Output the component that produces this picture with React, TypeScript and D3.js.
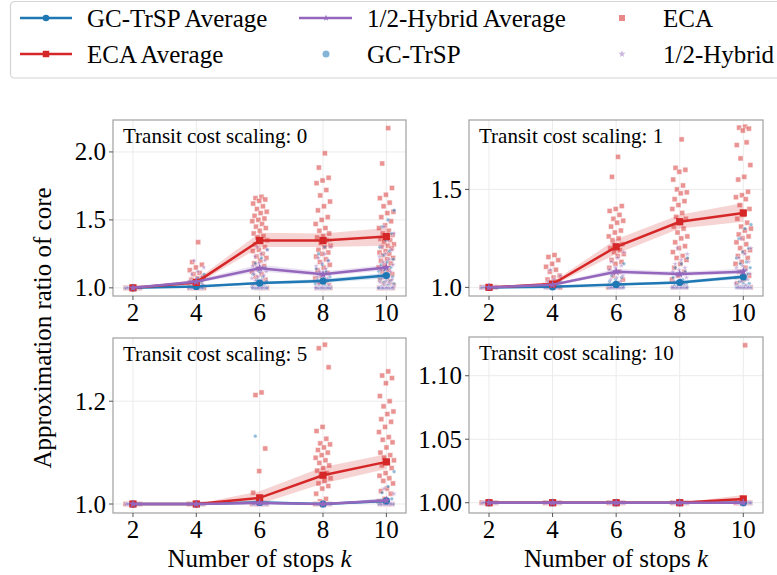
import React from 'react';
import * as d3 from 'd3';

const ks = [2, 4, 6, 8, 10];
const scalingLabels = ['0', '1', '5', '10'];
const xTickLabels = ['2', '4', '6', '8', '10'];
const yTicks = [[1.0, 1.5, 2.0], [1.0, 1.5], [1.0, 1.2], [1.0, 1.05, 1.1]];
const yTickLabels = [['1.0', '1.5', '2.0'], ['1.0', '1.5'], ['1.0', '1.2'], ['1.00', '1.05', '1.10']];
const yDomains = [[0.94, 2.235], [0.956, 1.854], [0.9825, 1.323], [0.9919, 1.1305]];

// averages per panel (scaling 0,1,5,10) over k
const gcAvg = [
  [1.0, 1.01, 1.035, 1.05, 1.09],
  [1.0, 1.003, 1.015, 1.025, 1.054],
  [1.0, 1.0, 1.003, 1.0, 1.006],
  [1.0, 1.0, 1.0, 1.0, 1.0],
];
const gcLo = [
  [1.0, 1.005, 1.025, 1.035, 1.07],
  [1.0, 1.001, 1.01, 1.018, 1.043],
  [1.0, 1.0, 1.0, 1.0, 1.002],
  [1.0, 1.0, 1.0, 1.0, 1.0],
];
const gcHi = [
  [1.0, 1.015, 1.045, 1.065, 1.11],
  [1.0, 1.005, 1.02, 1.032, 1.065],
  [1.0, 1.0, 1.008, 1.0, 1.011],
  [1.0, 1.0, 1.0, 1.0, 1.0],
];
const ecaAvg = [
  [1.0, 1.04, 1.348, 1.348, 1.377],
  [1.0, 1.017, 1.207, 1.335, 1.38],
  [1.0, 1.0, 1.012, 1.056, 1.082],
  [1.0, 1.0, 1.0, 1.0, 1.003],
];
const ecaLo = [
  [1.0, 1.025, 1.3, 1.3, 1.31],
  [1.0, 1.008, 1.17, 1.3, 1.335],
  [1.0, 1.0, 1.0, 1.04, 1.068],
  [1.0, 1.0, 1.0, 1.0, 1.0],
];
const ecaHi = [
  [1.0, 1.06, 1.405, 1.4, 1.44],
  [1.0, 1.028, 1.245, 1.37, 1.43],
  [1.0, 1.0, 1.025, 1.072, 1.097],
  [1.0, 1.0, 1.0, 1.0, 1.006],
];
const hyAvg = [
  [1.0, 1.045, 1.145, 1.1, 1.15],
  [1.0, 1.013, 1.08, 1.068, 1.08],
  [1.0, 1.0, 1.002, 1.0, 1.007],
  [1.0, 1.0, 1.0, 1.0, 1.0],
];
const hyLo = [
  [1.0, 1.035, 1.12, 1.085, 1.13],
  [1.0, 1.008, 1.068, 1.058, 1.068],
  [1.0, 1.0, 1.0, 1.0, 1.003],
  [1.0, 1.0, 1.0, 1.0, 1.0],
];
const hyHi = [
  [1.0, 1.06, 1.17, 1.12, 1.17],
  [1.0, 1.02, 1.095, 1.08, 1.095],
  [1.0, 1.0, 1.005, 1.0, 1.012],
  [1.0, 1.0, 1.0, 1.0, 1.0],
];

// individual runs: [panel][k index] -> values
const ecaPts = [
  [
    [1, 1, 1, 1, 1, 1, 1, 1, 1, 1, 1, 1, 1, 1, 1, 1, 1, 1],
    [1.336, 1.19, 1.17, 1.15, 1.13, 1.11, 1.1, 1.08, 1.07, 1.06, 1.05, 1.04, 1.03, 1.02, 1.02, 1.01, 1, 1, 1, 1, 1, 1, 1, 1, 1, 1, 1, 1],
    [1.67, 1.66, 1.65, 1.64, 1.62, 1.6, 1.58, 1.56, 1.55, 1.53, 1.51, 1.5, 1.49, 1.47, 1.45, 1.44, 1.42, 1.4, 1.38, 1.37, 1.35, 1.34, 1.32, 1.3, 1.28, 1.27, 1.25, 1.23, 1.22, 1.2, 1.18, 1.16, 1.14, 1.12, 1.1, 1.08, 1.06, 1.04, 1.02, 1, 1, 1, 1],
    [1.99, 1.885, 1.81, 1.79, 1.77, 1.72, 1.68, 1.635, 1.6, 1.57, 1.52, 1.5, 1.47, 1.44, 1.42, 1.4, 1.38, 1.37, 1.35, 1.33, 1.31, 1.3, 1.28, 1.26, 1.25, 1.23, 1.21, 1.19, 1.17, 1.15, 1.13, 1.11, 1.09, 1.07, 1.05, 1.03, 1.02, 1, 1, 1, 1, 1, 1],
    [2.175, 1.915, 1.735, 1.685, 1.66, 1.627, 1.6, 1.56, 1.55, 1.52, 1.49, 1.46, 1.44, 1.42, 1.4, 1.39, 1.37, 1.36, 1.35, 1.34, 1.32, 1.31, 1.3, 1.29, 1.27, 1.26, 1.25, 1.24, 1.22, 1.21, 1.2, 1.18, 1.17, 1.15, 1.13, 1.12, 1.1, 1.08, 1.06, 1.05, 1.03, 1.02, 1.01, 1, 1, 1, 1, 1, 1, 1],
  ],
  [
    [1, 1, 1, 1, 1, 1, 1, 1, 1, 1, 1, 1, 1, 1, 1, 1],
    [1.165, 1.155, 1.139, 1.12, 1.105, 1.09, 1.08, 1.06, 1.05, 1.04, 1.03, 1.02, 1.01, 1, 1, 1, 1, 1, 1, 1, 1, 1, 1],
    [1.666, 1.564, 1.415, 1.4, 1.39, 1.37, 1.35, 1.34, 1.33, 1.31, 1.29, 1.28, 1.26, 1.25, 1.24, 1.22, 1.21, 1.2, 1.19, 1.18, 1.17, 1.16, 1.14, 1.13, 1.12, 1.1, 1.08, 1.06, 1.04, 1.02, 1, 1, 1, 1, 1],
    [1.755, 1.61, 1.6, 1.59, 1.55, 1.52, 1.5, 1.485, 1.48, 1.45, 1.44, 1.42, 1.4, 1.38, 1.36, 1.35, 1.33, 1.31, 1.3, 1.28, 1.26, 1.25, 1.23, 1.21, 1.2, 1.18, 1.16, 1.15, 1.14, 1.12, 1.1, 1.08, 1.06, 1.04, 1.02, 1, 1, 1, 1],
    [1.82, 1.815, 1.81, 1.8, 1.726, 1.74, 1.658, 1.624, 1.564, 1.55, 1.488, 1.47, 1.46, 1.45, 1.42, 1.4, 1.37, 1.35, 1.33, 1.31, 1.3, 1.29, 1.27, 1.26, 1.25, 1.23, 1.22, 1.2, 1.19, 1.18, 1.16, 1.15, 1.13, 1.12, 1.1, 1.08, 1.06, 1.04, 1.02, 1, 1, 1, 1],
  ],
  [
    [1, 1, 1, 1, 1, 1, 1, 1, 1, 1, 1, 1, 1, 1],
    [1, 1, 1, 1, 1, 1, 1, 1, 1, 1, 1, 1, 1, 1],
    [1.217, 1.212, 1.108, 1.064, 1.022, 1, 1, 1, 1, 1, 1, 1, 1, 1, 1, 1],
    [1.31, 1.303, 1.266, 1.15, 1.142, 1.127, 1.118, 1.116, 1.11, 1.105, 1.1, 1.095, 1.09, 1.085, 1.08, 1.075, 1.07, 1.065, 1.06, 1.055, 1.05, 1.045, 1.04, 1.035, 1.03, 1.02, 1.01, 1.005, 1, 1, 1, 1, 1, 1],
    [1.258, 1.25, 1.245, 1.235, 1.21, 1.2, 1.19, 1.18, 1.175, 1.165, 1.16, 1.15, 1.14, 1.13, 1.125, 1.12, 1.11, 1.1, 1.095, 1.09, 1.085, 1.08, 1.075, 1.07, 1.06, 1.055, 1.05, 1.045, 1.04, 1.03, 1.025, 1.02, 1.01, 1.005, 1, 1, 1, 1, 1, 1],
  ],
  [
    [1, 1, 1, 1, 1, 1, 1, 1, 1, 1, 1, 1, 1, 1],
    [1, 1, 1, 1, 1, 1, 1, 1, 1, 1, 1, 1, 1, 1],
    [1, 1, 1, 1, 1, 1, 1, 1, 1, 1, 1, 1, 1, 1],
    [1, 1, 1, 1, 1, 1, 1, 1, 1, 1, 1, 1, 1, 1],
    [1.124, 1, 1, 1, 1, 1, 1, 1, 1, 1, 1, 1, 1, 1, 1, 1, 1],
  ],
];

const gcPts = [
  [
    [1, 1, 1, 1, 1, 1, 1, 1, 1, 1, 1, 1, 1, 1],
    [1.1, 1.07, 1.05, 1.03, 1.02, 1.01, 1, 1, 1, 1, 1, 1, 1, 1, 1, 1, 1, 1, 1, 1],
    [1.28, 1.22, 1.18, 1.15, 1.12, 1.1, 1.08, 1.06, 1.05, 1.04, 1.03, 1.02, 1.02, 1.01, 1.01, 1, 1, 1, 1, 1, 1, 1, 1, 1, 1, 1, 1, 1, 1, 1],
    [1.35, 1.3, 1.25, 1.2, 1.17, 1.14, 1.12, 1.1, 1.08, 1.07, 1.06, 1.05, 1.04, 1.03, 1.02, 1.01, 1.01, 1, 1, 1, 1, 1, 1, 1, 1, 1, 1, 1, 1, 1, 1, 1],
    [1.57, 1.5, 1.45, 1.4, 1.35, 1.3, 1.27, 1.24, 1.21, 1.19, 1.17, 1.15, 1.13, 1.12, 1.1, 1.09, 1.08, 1.07, 1.06, 1.05, 1.04, 1.03, 1.02, 1.01, 1, 1, 1, 1, 1, 1, 1, 1, 1, 1, 1, 1, 1, 1, 1],
  ],
  [
    [1, 1, 1, 1, 1, 1, 1, 1, 1, 1, 1, 1, 1, 1],
    [1.03, 1.02, 1.01, 1.005, 1, 1, 1, 1, 1, 1, 1, 1, 1, 1, 1, 1],
    [1.12, 1.08, 1.06, 1.05, 1.04, 1.03, 1.02, 1.02, 1.01, 1.01, 1.005, 1, 1, 1, 1, 1, 1, 1, 1, 1, 1, 1, 1, 1, 1],
    [1.15, 1.12, 1.1, 1.08, 1.07, 1.05, 1.04, 1.03, 1.02, 1.02, 1.01, 1.01, 1, 1, 1, 1, 1, 1, 1, 1, 1, 1, 1, 1, 1, 1],
    [1.32, 1.3, 1.25, 1.2, 1.18, 1.15, 1.13, 1.12, 1.1, 1.09, 1.08, 1.07, 1.06, 1.05, 1.04, 1.03, 1.02, 1.02, 1.01, 1.01, 1, 1, 1, 1, 1, 1, 1, 1, 1, 1, 1, 1, 1, 1],
  ],
  [
    [1, 1, 1, 1, 1, 1, 1, 1, 1, 1, 1, 1],
    [1, 1, 1, 1, 1, 1, 1, 1, 1, 1, 1, 1],
    [1, 1, 1.132, 1, 1, 1, 1, 1, 1, 1, 1, 1],
    [1, 1, 1, 1, 1, 1, 1, 1, 1, 1, 1, 1],
    [1.063, 1.034, 1.022, 1.01, 1.005, 1, 1, 1, 1, 1, 1, 1, 1, 1],
  ],
  [
    [1, 1, 1, 1, 1, 1, 1, 1, 1, 1, 1, 1],
    [1, 1, 1, 1, 1, 1, 1, 1, 1, 1, 1, 1],
    [1, 1, 1, 1, 1, 1, 1, 1, 1, 1, 1, 1],
    [1, 1, 1, 1, 1, 1, 1, 1, 1, 1, 1, 1],
    [1, 1, 1, 1, 1, 1, 1, 1, 1, 1, 1, 1],
  ],
];

const hyPts = [
  [
    [1, 1, 1, 1, 1, 1, 1, 1, 1, 1, 1, 1, 1, 1],
    [1.2, 1.15, 1.12, 1.1, 1.08, 1.06, 1.05, 1.04, 1.03, 1.02, 1.01, 1, 1, 1, 1, 1, 1, 1, 1],
    [1.3, 1.28, 1.25, 1.23, 1.2, 1.18, 1.16, 1.15, 1.14, 1.12, 1.11, 1.1, 1.09, 1.08, 1.07, 1.06, 1.05, 1.04, 1.03, 1.02, 1.01, 1, 1, 1, 1, 1, 1, 1, 1],
    [1.35, 1.3, 1.25, 1.22, 1.2, 1.18, 1.16, 1.14, 1.12, 1.1, 1.09, 1.08, 1.07, 1.06, 1.05, 1.04, 1.03, 1.02, 1.01, 1, 1, 1, 1, 1, 1, 1, 1, 1],
    [1.45, 1.4, 1.35, 1.3, 1.28, 1.25, 1.23, 1.21, 1.19, 1.17, 1.15, 1.13, 1.12, 1.1, 1.09, 1.08, 1.07, 1.06, 1.05, 1.04, 1.03, 1.02, 1.01, 1, 1, 1, 1, 1, 1, 1, 1, 1],
  ],
  [
    [1, 1, 1, 1, 1, 1, 1, 1, 1, 1, 1, 1],
    [1.09, 1.06, 1.04, 1.03, 1.02, 1.01, 1, 1, 1, 1, 1, 1, 1, 1, 1, 1],
    [1.22, 1.18, 1.15, 1.13, 1.11, 1.1, 1.09, 1.08, 1.07, 1.06, 1.05, 1.04, 1.03, 1.02, 1.01, 1, 1, 1, 1, 1, 1, 1, 1, 1, 1],
    [1.2, 1.17, 1.14, 1.12, 1.1, 1.09, 1.08, 1.07, 1.06, 1.05, 1.04, 1.03, 1.02, 1.01, 1, 1, 1, 1, 1, 1, 1, 1, 1, 1],
    [1.25, 1.2, 1.17, 1.15, 1.13, 1.11, 1.1, 1.09, 1.08, 1.07, 1.06, 1.05, 1.04, 1.03, 1.02, 1.01, 1, 1, 1, 1, 1, 1, 1, 1, 1, 1],
  ],
  [
    [1, 1, 1, 1, 1, 1, 1, 1, 1, 1, 1, 1],
    [1, 1, 1, 1, 1, 1, 1, 1, 1, 1, 1, 1],
    [1.01, 1, 1, 1, 1, 1, 1, 1, 1, 1, 1, 1],
    [1, 1, 1, 1, 1, 1, 1, 1, 1, 1, 1, 1],
    [1.03, 1.02, 1.01, 1.005, 1, 1, 1, 1, 1, 1, 1, 1, 1, 1],
  ],
  [
    [1, 1, 1, 1, 1, 1, 1, 1, 1, 1, 1, 1],
    [1, 1, 1, 1, 1, 1, 1, 1, 1, 1, 1, 1],
    [1, 1, 1, 1, 1, 1, 1, 1, 1, 1, 1, 1],
    [1, 1, 1, 1, 1, 1, 1, 1, 1, 1, 1, 1],
    [1, 1, 1, 1, 1, 1, 1, 1, 1, 1, 1, 1],
  ],
];

const BLUE = '#1f77b4';
const RED = '#d62728';
const PURPLE = '#9467bd';
const SERIF = { fontFamily: "'Liberation Serif', monospace" };

const PANELS = [
  { l: 113, r: 406, t: 120, b: 296 },
  { l: 469, r: 763, t: 120, b: 296 },
  { l: 113, r: 406, t: 338, b: 513 },
  { l: 469, r: 763, t: 337, b: 513 },
];

const starPath = (size: number) => d3.symbol(d3.symbolStar, size)() as string;
const squarePath = (size: number) => d3.symbol(d3.symbolSquare, size)() as string;

function jitter(i: number, m: number) {
  const f = ((i + 1) * 0.6180339887 + m * 0.37) % 1;
  return (f - 0.5) * 0.5;
}

function Panel({ p }: { p: number }) {
  const g = PANELS[p];
  const x = d3.scaleLinear().domain([1.37, 10.62]).range([g.l, g.r]);
  const y = d3.scaleLinear().domain(yDomains[p]).range([g.b, g.t]);
  const clipId = `clip${p}`;

  const line = d3.line<[number, number]>().x((d) => x(d[0])).y((d) => y(d[1]));
  const band = (l: number[], h: number[]) =>
    d3
      .area<number>()
      .x((k) => x(k))
      .y0((_, i) => y(l[i]))
      .y1((_, i) => y(h[i]))(ks) as string;

  const sq5 = squarePath(26);
  const st = starPath(11);
  const sqAvg = squarePath(52);
  const stAvg = starPath(24);

  return (
    <g>
      <defs>
        <clipPath id={clipId}>
          <rect x={g.l} y={g.t} width={g.r - g.l} height={g.b - g.t} />
        </clipPath>
      </defs>
      <rect x={g.l} y={g.t} width={g.r - g.l} height={g.b - g.t} fill="white" />
      {ks.map((k) => (
        <line key={'gx' + k} x1={x(k)} x2={x(k)} y1={g.t} y2={g.b} stroke="#ebebeb" strokeWidth={1} />
      ))}
      {yTicks[p].map((v) => (
        <line key={'gy' + v} x1={g.l} x2={g.r} y1={y(v)} y2={y(v)} stroke="#ebebeb" strokeWidth={1} />
      ))}
      <g clipPath={`url(#${clipId})`}>
        {ecaPts[p].map((arr, j) =>
          arr.map((v, i) => (
            <path
              key={`e${j}-${i}`}
              d={sq5}
              transform={`translate(${x(ks[j] + jitter(i, 0))},${y(v)})`}
              fill={RED}
              fillOpacity={0.5}
              stroke="white"
              strokeWidth={0.5}
            />
          ))
        )}
        {gcPts[p].map((arr, j) =>
          arr.map((v, i) => (
            <circle
              key={`g${j}-${i}`}
              cx={x(ks[j] + jitter(i, 1))}
              cy={y(v)}
              r={1.8}
              fill={BLUE}
              fillOpacity={0.5}
              stroke="white"
              strokeWidth={0.3}
            />
          ))
        )}
        {hyPts[p].map((arr, j) =>
          arr.map((v, i) => (
            <path
              key={`h${j}-${i}`}
              d={st}
              transform={`translate(${x(ks[j] + jitter(i, 2))},${y(v)})`}
              fill={PURPLE}
              fillOpacity={0.45}
              stroke="white"
              strokeWidth={0.3}
            />
          ))
        )}
        <path d={band(gcLo[p], gcHi[p])} fill={BLUE} fillOpacity={0.2} />
        <path d={band(ecaLo[p], ecaHi[p])} fill={RED} fillOpacity={0.2} />
        <path d={band(hyLo[p], hyHi[p])} fill={PURPLE} fillOpacity={0.2} />
        <path d={line(ks.map((k, i) => [k, gcAvg[p][i]])) as string} fill="none" stroke={BLUE} strokeWidth={2.5} />
        {ks.map((k, i) => (
          <circle key={'gm' + k} cx={x(k)} cy={y(gcAvg[p][i])} r={3.6} fill={BLUE} />
        ))}
        <path d={line(ks.map((k, i) => [k, ecaAvg[p][i]])) as string} fill="none" stroke={RED} strokeWidth={2.5} />
        {ks.map((k, i) => (
          <path key={'em' + k} d={sqAvg} transform={`translate(${x(k)},${y(ecaAvg[p][i])})`} fill={RED} />
        ))}
        <path d={line(ks.map((k, i) => [k, hyAvg[p][i]])) as string} fill="none" stroke={PURPLE} strokeWidth={2.5} />
        {ks.map((k, i) => (
          <path key={'hm' + k} d={stAvg} transform={`translate(${x(k)},${y(hyAvg[p][i])})`} fill={PURPLE} />
        ))}
      </g>
      <rect x={g.l} y={g.t} width={g.r - g.l} height={g.b - g.t} fill="none" stroke="#a0a0a0" strokeWidth={1.2} />
      {ks.map((k, i) => (
        <g key={'xt' + k}>
          <line x1={x(k)} x2={x(k)} y1={g.b} y2={g.b + 4} stroke="#555" strokeWidth={1} />
          <text x={x(k)} y={g.b + 25} textAnchor="middle" fontSize={25} style={SERIF}>
            {xTickLabels[i]}
          </text>
        </g>
      ))}
      {yTicks[p].map((v, i) => (
        <g key={'yt' + v}>
          <line x1={g.l - 4} x2={g.l} y1={y(v)} y2={y(v)} stroke="#555" strokeWidth={1} />
          <text x={g.l - 7} y={y(v) + 8.5} textAnchor="end" fontSize={25} style={SERIF}>
            {yTickLabels[p][i]}
          </text>
        </g>
      ))}
      <text x={g.l + 10} y={g.t + 23} fontSize={21} style={SERIF}>
        {`Transit cost scaling: ${scalingLabels[p]}`}
      </text>
    </g>
  );
}

function Legend() {
  const rows = [18, 54];
  const sqL = squarePath(42);
  const stL = starPath(14);
  const sqS = squarePath(36);
  const stS = starPath(16);
  const text = (x: number, yv: number, s: string) => (
    <text x={x} y={yv + 8.5} fontSize={25} style={SERIF}>
      {s}
    </text>
  );
  return (
    <g>
      <rect x={10.5} y={1.5} width={800} height={76.5} rx={4} fill="white" stroke="#d4d4d4" strokeWidth={1.2} />
      <line x1={20} x2={72} y1={rows[0]} y2={rows[0]} stroke={BLUE} strokeWidth={2.5} />
      <circle cx={46} cy={rows[0]} r={3.3} fill={BLUE} />
      {text(87, rows[0], 'GC-TrSP Average')}
      <line x1={20} x2={72} y1={rows[1]} y2={rows[1]} stroke={RED} strokeWidth={2.5} />
      <path d={sqL} transform={`translate(46,${rows[1]})`} fill={RED} />
      {text(87, rows[1], 'ECA Average')}
      <line x1={299} x2={352} y1={rows[0]} y2={rows[0]} stroke={PURPLE} strokeWidth={2.5} />
      <path d={stL} transform={`translate(326,${rows[0]})`} fill={PURPLE} />
      {text(367, rows[0], '1/2-Hybrid Average')}
      <circle cx={326} cy={rows[1]} r={3.5} fill={BLUE} fillOpacity={0.55} />
      {text(367, rows[1], 'GC-TrSP')}
      <path d={sqS} transform={`translate(622,${rows[0]})`} fill={RED} fillOpacity={0.55} />
      {text(663, rows[0], 'ECA')}
      <path d={stS} transform={`translate(622,${rows[1]})`} fill={PURPLE} fillOpacity={0.5} />
      {text(663, rows[1], '1/2-Hybrid')}
    </g>
  );
}

export default function App() {
  return (
    <svg width={777} height={575} style={{ position: 'absolute', left: 0, top: 0, background: 'white' }}>
      <rect x={0} y={0} width={777} height={575} fill="white" />
      <Legend />
      {PANELS.map((_, p) => (
        <Panel key={p} p={p} />
      ))}
      <text transform="translate(51,328) rotate(-90)" textAnchor="middle" fontSize={25} style={SERIF}>
        Approximation ratio of core
      </text>
      {[0, 1].map((c) => (
        <text key={c} x={(PANELS[c].l + PANELS[c].r) / 2} y={567} textAnchor="middle" fontSize={25} style={SERIF}>
          Number of stops <tspan fontStyle="italic">k</tspan>
        </text>
      ))}
    </svg>
  );
}
